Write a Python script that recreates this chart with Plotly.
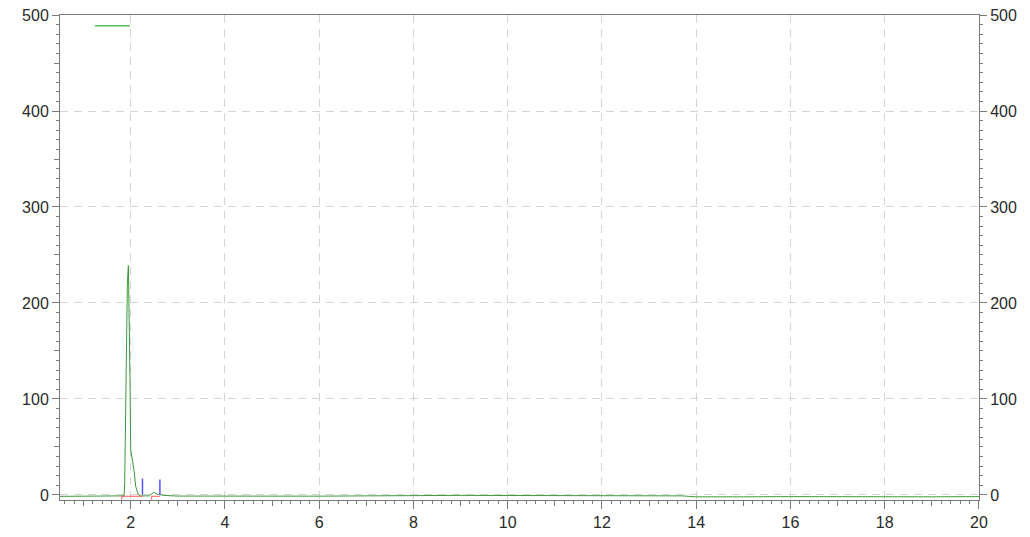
import plotly.graph_objects as go

# chromatogram signal (retention time in min, response)
rt = [0.5, 1.0, 1.5, 1.8, 1.86, 1.873, 1.90, 1.93, 1.951, 1.972, 1.986, 2.0, 2.035,
      2.07, 2.106, 2.155, 2.2, 2.4, 2.45, 2.495, 2.55, 2.7, 3.0, 4.0, 5.0, 6.0, 7.0,
      8.0, 9.0, 10.0, 11.0, 12.0, 13.0, 13.7, 14.0, 14.5, 15.0, 16.0, 17.0, 18.0,
      19.0, 20.0]
signal = [-1.5, -1.5, -1.6, -1.5, -1.0, 12.5, 117, 221, 239, 186, 117, 47, 36,
          26, 9, 1, -1.0, -1.0, 1.5, 2.5, 1.0, -0.5, -1.2, -1.4, -1.2, -1.3, -1.0,
          -0.5, -0.5, -0.6, -0.6, -0.7, -0.8, -1.0, -2.0, -2.2, -2.0, -1.8, -2.0,
          -1.9, -2.0, -1.8]

# integration baselines (start, end) and peak end markers
base_start = [1.81, 2.445]
base_end = [2.25, 2.62]
base_level = -1.4
base_tick = -5
marker_x = [2.25, 2.62]
marker_top = [17, 16]

grid_color = "#d4d4d4"
axis_color = "#7a7a7a"
font = dict(family="Liberation Sans, Arial, sans-serif", size=16, color="#2a2a2a")

fig = go.Figure()

fig.add_trace(go.Scatter(x=rt, y=signal, mode="lines",
                         line=dict(color="#3c9a3c", width=1), showlegend=False))

for s, e in zip(base_start, base_end):
    fig.add_trace(go.Scatter(x=[s, s, e], y=[base_tick, base_level, base_level],
                             mode="lines", line=dict(color="#ff5555", width=1),
                             showlegend=False))

for mx, mt in zip(marker_x, marker_top):
    fig.add_trace(go.Scatter(x=[mx, mx], y=[0, mt], mode="lines",
                             line=dict(color="#5555ff", width=1.5),
                             showlegend=False))

# dummy traces to carry the secondary axes
fig.add_trace(go.Scatter(x=[rt[0]], y=[0], xaxis="x2", yaxis="y3",
                         mode="markers", marker=dict(opacity=0), showlegend=False,
                         hoverinfo="skip"))
fig.add_trace(go.Scatter(x=[rt[0]], y=[0], xaxis="x", yaxis="y2",
                         mode="markers", marker=dict(opacity=0), showlegend=False,
                         hoverinfo="skip"))

xrange = [0.5, 20.001]
yrange = [-5.3, 500.05]

fig.update_layout(
    width=1030, height=537,
    margin=dict(l=52, r=59, t=7, b=45),
    paper_bgcolor="white", plot_bgcolor="white",
    font=font,
    xaxis=dict(range=xrange, tick0=0, dtick=2, ticks="outside", ticklen=8,
               tickcolor=axis_color, showline=True, linecolor=axis_color,
               mirror=True, showgrid=True, gridcolor=grid_color,
               griddash="8px,6px", zeroline=False, tickfont=font,
               ticklabeloverflow="allow", automargin=False,
               minor=dict(tick0=0, dtick=0.2, ticks="outside", ticklen=3,
                          tickcolor=axis_color, showgrid=False)),
    xaxis2=dict(range=xrange, overlaying="x", side="bottom", tick0=0, dtick=1,
                ticks="outside", ticklen=5, tickcolor=axis_color,
                showticklabels=False, showgrid=False, zeroline=False,
                showline=False, automargin=False),
    yaxis=dict(range=yrange, tick0=0, dtick=100, ticks="outside", ticklen=7,
               tickcolor=axis_color, showline=True, linecolor=axis_color,
               showgrid=True, gridcolor=grid_color, griddash="8px,6px",
               zeroline=False, tickfont=font, ticklabeloverflow="allow",
               automargin=False,
               minor=dict(tick0=0, dtick=10, ticks="outside", ticklen=3,
                          tickcolor=axis_color, showgrid=False)),
    yaxis2=dict(range=yrange, overlaying="y", side="right", tick0=0, dtick=100,
                ticks="outside", ticklen=7, tickcolor=axis_color,
                showline=True, linecolor=axis_color, showgrid=False,
                zeroline=False, tickfont=font, ticklabeloverflow="allow",
                automargin=False,
                minor=dict(tick0=0, dtick=10, ticks="outside", ticklen=3,
                           tickcolor=axis_color)),
    yaxis3=dict(range=yrange, overlaying="y", side="left", tick0=0, dtick=50,
                ticks="outside", ticklen=5, tickcolor=axis_color,
                showticklabels=False, showgrid=False, zeroline=False,
                showline=False, automargin=False),
    shapes=[dict(type="line", xref="paper", yref="paper", x0=0.038, x1=0.076,
                 y0=0.978, y1=0.978, line=dict(color="#5cb85c", width=1.5))],
)

fig.write_html("out.html")
